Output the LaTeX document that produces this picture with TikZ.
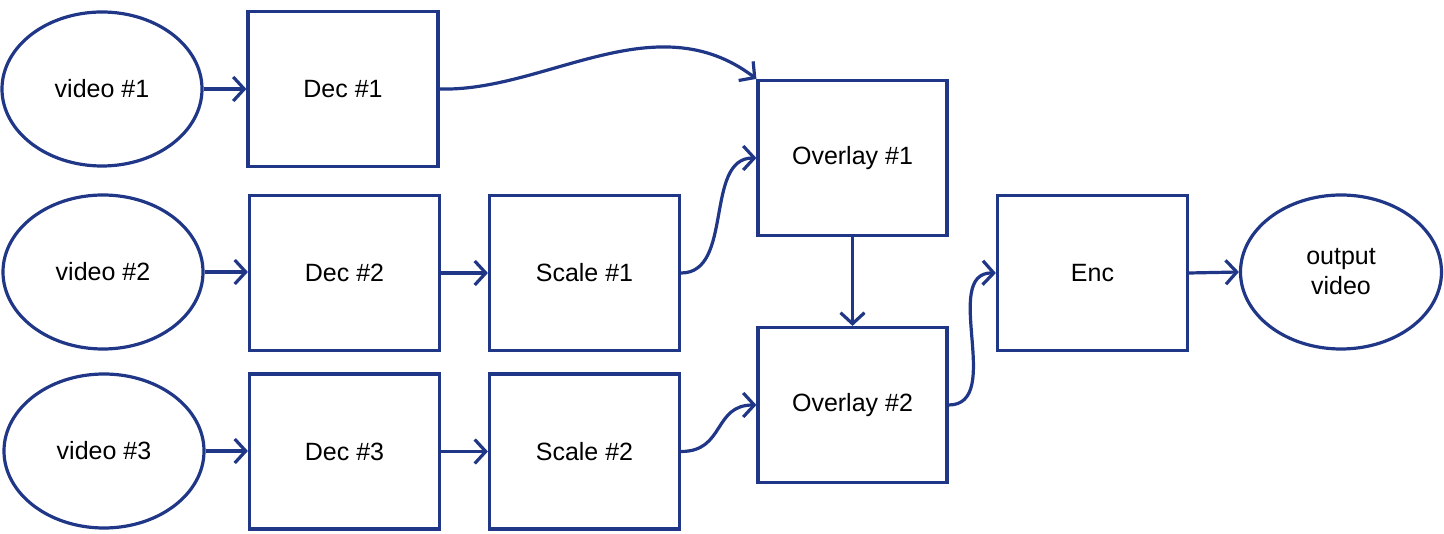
\documentclass[tikz,border=0pt]{standalone}
\usepackage{fontspec}
\setmainfont{Liberation Sans}
\usetikzlibrary{arrows.meta,shapes.geometric}
\definecolor{navy}{RGB}{32,55,135}
\begin{document}
\begin{tikzpicture}[x=1pt,y=-1pt,
  every node/.style={font=\fontsize{25}{30}\selectfont, text=black},
  oval/.style={ellipse, draw=navy, line width=3.2pt, minimum width=200pt, minimum height=154pt, inner sep=0pt, align=center},
  blk/.style={rectangle, draw=navy, line width=3.2pt, minimum width=190pt, minimum height=155pt, inner sep=0pt},
  conn/.style={draw=navy, line width=3.2pt, -{Straight Barb[length=11pt,width=24pt,line width=3.2pt]}}]
\useasboundingbox (0,0) rectangle (1444,534);
\node[oval] (v1) at (102,89) {video \#1};
\node[oval] (v2) at (103,272) {video \#2};
\node[oval] (v3) at (104,451) {video \#3};
\node[oval,minimum width=201pt] (out) at (1341,272) {output\\video};
\node[blk] (d1) at (343,89) {Dec \#1};
\node[blk] (d2) at (344.5,273) {Dec \#2};
\node[blk] (d3) at (344.5,451.5) {Dec \#3};
\node[blk] (s1) at (584.5,273) {Scale \#1};
\node[blk] (s2) at (584.5,451.5) {Scale \#2};
\node[blk,minimum width=189pt] (o1) at (852.5,158) {Overlay \#1};
\node[blk,minimum width=189pt] (o2) at (852.5,405) {Overlay \#2};
\node[blk] (enc) at (1092.5,273) {Enc};
\draw[conn] (v1.east) -- (d1.west |- v1.east);
\draw[conn] (v2.east) -- (d2.west |- v2.east);
\draw[conn] (v3.east) -- (d3.west |- v3.east);
\draw[conn] (d2.east) -- (s1.west);
\draw[conn] (d3.east) -- (s2.west);
\draw[conn] (enc.east) -- (out.west);
\draw[conn] (d1.east) .. controls (545,92) and (655,2) .. (o1.north west);
\draw[conn] (s1.east) .. controls (734,273) and (704,158) .. (o1.west);
\draw[conn] (s2.east) .. controls (725,451.5) and (713,405) .. (o2.west);
\draw[conn] (o2.east) .. controls (1005,405) and (940,272) .. (enc.west);
\draw[conn] (o1.south) -- (o2.north);
\end{tikzpicture}
\end{document}
